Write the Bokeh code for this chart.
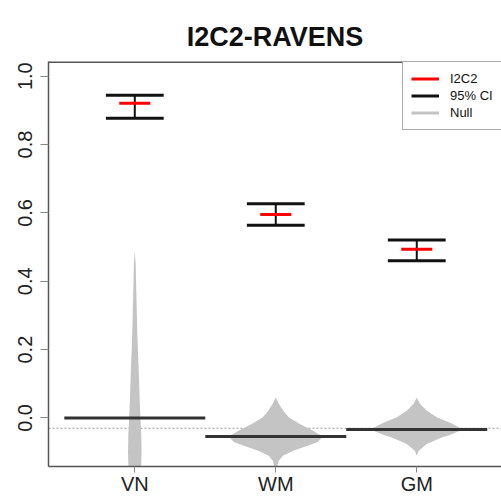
from bokeh.plotting import figure
from bokeh.models import (FixedTicker, Span, Legend, LegendItem, Range1d)
from bokeh.embed import file_html
from bokeh.resources import INLINE

# ---------------- data ----------------
categories = ["VN", "WM", "GM"]
cat_pos = [1, 2, 3]
i2c2 = [0.921, 0.595, 0.494]
ci_low = [0.877, 0.564, 0.460]
ci_high = [0.944, 0.627, 0.521]
null_center = [0.0, -0.054, -0.034]
null_ref = -0.030

# null distributions (violin outlines): levels and half-widths (in category units)
vn_y = [0.49, 0.45, 0.40, 0.35, 0.30, 0.25, 0.20, 0.15, 0.10, 0.05, 0.00, -0.05, -0.10, -0.15]
vn_w = [0.0, 0.0065, 0.009, 0.012, 0.015, 0.018, 0.022, 0.027, 0.031, 0.035, 0.040, 0.046, 0.048, 0.045]
wm_y = [0.06, 0.042, 0.021, 0.002, -0.017, -0.035, -0.054, -0.07, -0.081, -0.095, -0.11, -0.125, -0.145]
wm_w = [0.0, 0.021, 0.053, 0.092, 0.167, 0.255, 0.333, 0.298, 0.227, 0.128, 0.053, 0.021, 0.007]
gm_y = [0.06, 0.042, 0.021, 0.002, -0.015, -0.034, -0.05, -0.057, -0.076, -0.096, -0.11]
gm_w = [0.0, 0.021, 0.071, 0.142, 0.241, 0.33, 0.234, 0.177, 0.071, 0.014, 0.0]

y_ticks = [0.0, 0.2, 0.4, 0.6, 0.8, 1.0]
y_tick_labels = ["0.0", "0.2", "0.4", "0.6", "0.8", "1.0"]

# ---------------- figure ----------------
FONT = "Liberation Sans"
Y_START, Y_END = -0.142, 1.043
p = figure(width=501, height=497, output_backend="svg", toolbar_location=None,
           x_range=Range1d(0.388, 3.601), y_range=Range1d(Y_START, Y_END),
           min_border_left=48, min_border_right=0, min_border_top=61, min_border_bottom=31,
           title="I2C2-RAVENS")
p.outline_line_color = None
p.grid.visible = False
p.background_fill_color = "white"
p.border_fill_color = "white"

p.title.text_font = FONT
p.title.text_font_size = "27px"
p.title.text_font_style = "bold"
p.title.text_color = "#111111"
p.title.align = "center"
p.title.standoff = 20

# top frame line
p.add_layout(Span(location=Y_END, dimension="width", line_color="#555555", line_width=3))

xax = p.below[0]
yax = p.left[0]
yax.ticker = FixedTicker(ticks=y_ticks)
yax.major_label_overrides = {t: l for t, l in zip(y_ticks, y_tick_labels)}
yax.major_label_orientation = "vertical"
xax.ticker = FixedTicker(ticks=cat_pos)
xax.major_label_overrides = {c: n for c, n in zip(cat_pos, categories)}
for ax in (xax, yax):
    ax.axis_line_color = "#555555"
    ax.axis_line_width = 1.5
    ax.major_tick_line_color = "#888888"
    ax.major_tick_in = 0
    ax.minor_tick_line_color = None
    ax.major_label_text_font = FONT
    ax.major_label_text_font_size = "20px"
    ax.major_label_text_color = "#222222"
yax.major_tick_out = 8
yax.major_label_standoff = 8
xax.major_tick_out = 6
xax.major_label_standoff = 0

# dotted reference line
p.add_layout(Span(location=null_ref, dimension="width", line_color="#999999",
                  line_dash="2 2", line_width=1, level="underlay"))

# violins
xs, ys = [], []
for c, yv, wv in zip(cat_pos, [vn_y, wm_y, gm_y], [vn_w, wm_w, gm_w]):
    xs.append([c + w for w in wv] + [c - w for w in reversed(wv)])
    ys.append(list(yv) + list(reversed(yv)))
p.patches(xs, ys, fill_color="#c4c4c4", line_color=None)

# null centre lines
p.segment(x0=[c - 0.5 for c in cat_pos], x1=[c + 0.5 for c in cat_pos],
          y0=null_center, y1=null_center, line_color="#333333", line_width=3)

# confidence intervals
p.segment(x0=cat_pos, x1=cat_pos, y0=ci_low, y1=ci_high, line_color="#111111", line_width=2)
caps = p.segment(x0=[c - 0.205 for c in cat_pos] * 2, x1=[c + 0.205 for c in cat_pos] * 2,
                 y0=ci_low + ci_high, y1=ci_low + ci_high, line_color="#111111", line_width=3)
red = p.segment(x0=[c - 0.11 for c in cat_pos], x1=[c + 0.11 for c in cat_pos],
                y0=i2c2, y1=i2c2, line_color="#ff0000", line_width=3)
# legend-only renderer (no visible mark)
null_leg = p.line(x=[float("nan")], y=[float("nan")], line_color="#c4c4c4", line_width=3)

legend = Legend(items=[LegendItem(label="I2C2", renderers=[red]),
                       LegendItem(label="95% CI", renderers=[caps]),
                       LegendItem(label="Null", renderers=[null_leg])],
                location=(354, 336), margin=0, padding=8, spacing=0,
                glyph_width=28, glyph_height=17, label_height=17, label_standoff=11,
                label_text_font=FONT, label_text_font_size="13px", label_text_color="#111111",
                border_line_color="#555555", border_line_width=1,
                background_fill_color="white", background_fill_alpha=1.0)
p.add_layout(legend)

open("out.html", "w").write(file_html(p, INLINE))
